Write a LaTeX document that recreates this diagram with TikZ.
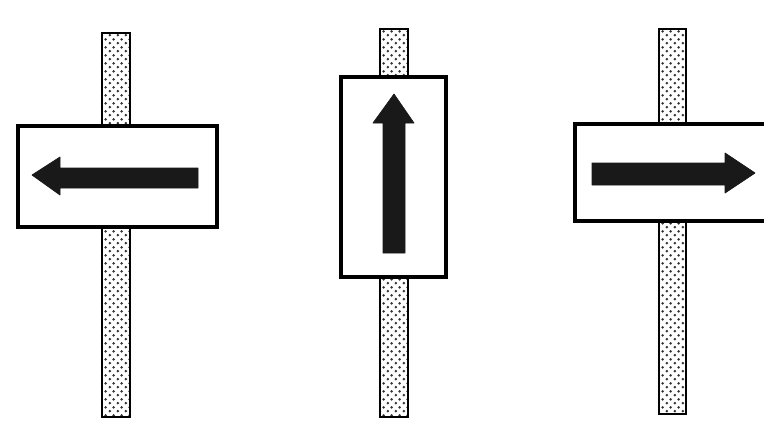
\documentclass[tikz,border=0pt]{standalone}
\usetikzlibrary{patterns}

\pgfdeclarepatternformonly{postdots}{\pgfpointorigin}{\pgfpoint{4.4pt}{4.4pt}}{\pgfpoint{4.4pt}{4.4pt}}{
  \pgfpathcircle{\pgfpoint{1.1pt}{1.1pt}}{0.85pt}
  \pgfpathcircle{\pgfpoint{3.3pt}{3.3pt}}{0.85pt}
  \pgfusepath{fill}
}

\begin{document}
\begin{tikzpicture}[x=0.02cm,y=-0.02cm,
  post/.style={draw=black,line width=1.3pt,pattern=postdots,pattern color=black!80},
  signbox/.style={draw=black,line width=1.8pt,fill=white},
  arrowfill/.style={fill=black!90,draw=black!90,line join=round}]
  \fill[white] (0,0) rectangle (764,420);
  \useasboundingbox (0,0) rectangle (764,420);
  \clip (0,0) rectangle (764,420);
  % posts
  \foreach \xl/\xr/\yt/\yb in {102/130/33/417,380/408/29/417,659/686/29/414} {
    \draw[post] (\xl,\yt) rectangle (\xr,\yb);
  }
  % left sign
  \draw[signbox] (18,126) rectangle (217,227);
  \draw[arrowfill] (32,175) -- (60,157) -- (60,168) -- (198,168) -- (198,188)
    -- (60,188) -- (60,195) -- cycle;
  % middle sign
  \draw[signbox] (341,77) rectangle (446,277);
  \draw[arrowfill] (394,94) -- (414,123) -- (405,123) -- (405,253) -- (383,253)
    -- (383,123) -- (373,123) -- cycle;
  % right sign
  \draw[signbox] (575,124) rectangle (780,221);
  \draw[arrowfill] (755,173) -- (725,153) -- (725,163) -- (592,163) -- (592,185)
    -- (725,185) -- (725,193) -- cycle;
\end{tikzpicture}
\end{document}
